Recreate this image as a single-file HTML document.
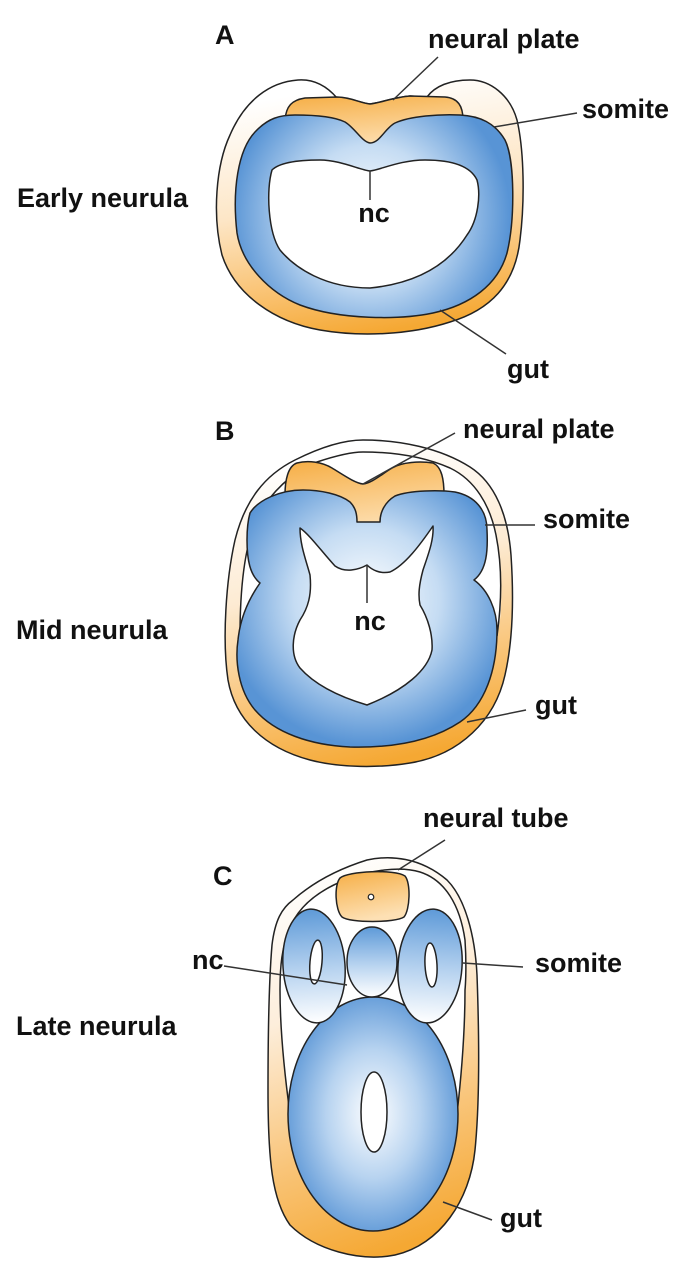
<!DOCTYPE html>
<html><head><meta charset="utf-8"><style>
html,body{margin:0;padding:0;background:#fff;}
svg{display:block;}
text{font-family:"Liberation Sans",Arial,sans-serif;font-weight:bold;font-size:27px;fill:#111;}
</style></head><body>
<svg width="682" height="1280" viewBox="0 0 682 1280" xmlns="http://www.w3.org/2000/svg">
<defs>
<linearGradient id="bodyA" x1="0.3" y1="0.05" x2="0.5" y2="1">
<stop offset="0" stop-color="#ffffff"/><stop offset="0.45" stop-color="#fde6c6"/><stop offset="0.8" stop-color="#f9bf6a"/><stop offset="1" stop-color="#f5a833"/></linearGradient>
<linearGradient id="bodyB" x1="0.3" y1="0.05" x2="0.5" y2="1">
<stop offset="0" stop-color="#ffffff"/><stop offset="0.4" stop-color="#fdebd3"/><stop offset="0.75" stop-color="#f9c374"/><stop offset="1" stop-color="#f5a833"/></linearGradient>
<linearGradient id="bodyC" x1="0.3" y1="0" x2="0.5" y2="1">
<stop offset="0" stop-color="#ffffff"/><stop offset="0.35" stop-color="#fdeedb"/><stop offset="0.7" stop-color="#f9c57a"/><stop offset="1" stop-color="#f5a833"/></linearGradient>
<linearGradient id="np" x1="0" y1="0" x2="0.3" y2="1">
<stop offset="0" stop-color="#f6ae45"/><stop offset="1" stop-color="#fde0b4"/></linearGradient>
<radialGradient id="blueA" gradientUnits="userSpaceOnUse" cx="370" cy="215" r="140">
<stop offset="0" stop-color="#ffffff"/><stop offset="0.5" stop-color="#c5dcf3"/><stop offset="1" stop-color="#5894d5"/></radialGradient>
<radialGradient id="blueB" gradientUnits="userSpaceOnUse" cx="367" cy="600" r="145">
<stop offset="0" stop-color="#ffffff"/><stop offset="0.5" stop-color="#c5dcf3"/><stop offset="1" stop-color="#5894d5"/></radialGradient>
<radialGradient id="blueGut" cx="0.5" cy="0.5" r="0.55">
<stop offset="0" stop-color="#ffffff"/><stop offset="0.5" stop-color="#b7d3f0"/><stop offset="1" stop-color="#5894d5"/></radialGradient>
<linearGradient id="blueV" x1="0" y1="0" x2="0" y2="1">
<stop offset="0" stop-color="#5e9ad8"/><stop offset="0.55" stop-color="#b9d4f0"/><stop offset="1" stop-color="#ffffff"/></linearGradient>
</defs>

<g stroke="#222" stroke-width="1.5" stroke-linejoin="round">
<!-- Panel A -->
<path fill="url(#bodyA)" d="M337,98 C325,84 312,79 298,80 C270,82 245,100 230,135 C216,165 212,215 222,255 C235,295 275,322 320,330 C360,337 410,335 450,322 C490,310 515,285 520,240 C525,200 524,150 517,120 C510,95 490,80 470,80 C450,80 435,86 427,97 L410,96 C395,97 380,103 370,104 C360,103 350,97 337,98 Z"/>
<path fill="url(#np)" d="M285,150 L285,120 C286,106 292,100 305,98 L337,97 C350,97 360,103 370,104 C380,103 395,97 410,96 L445,97 C458,98 463,106 463,120 L463,150 Z"/>
<path fill="url(#blueA)" d="M237,233 C232,190 238,150 255,132 C268,118 280,115 295,115 C315,115 335,117 345,122 C355,128 362,142 370,143 C380,143 385,128 395,123 C410,116 440,114 460,115 C480,116 495,123 505,140 C515,160 515,220 507,253 C498,285 470,305 433,313 C400,320 340,320 300,305 C270,293 242,265 237,233 Z"/>
<path fill="#fff" d="M272,170 C280,162 300,160 320,160 C340,160 360,170 370,171 C380,170 400,160 425,160 C450,160 470,165 477,180 C481,195 478,220 467,235 C450,262 420,283 370,288 C325,288 295,268 280,250 C268,232 266,190 272,170 Z"/>

<!-- Panel B -->
<path fill="url(#bodyB)" d="M363,440 C400,440 440,448 470,467 C495,483 508,515 511,555 C514,600 513,640 505,675 C495,720 460,755 410,763 C380,768 340,768 310,760 C265,748 235,720 228,680 C222,640 226,580 235,540 C245,500 265,475 295,460 C315,450 340,440 363,440 Z"/>
<path fill="#fff" stroke="none" d="M241,620 C240,575 247,532 263,507 C280,483 300,468 317,462 C335,456 350,452 363,452 C390,452 420,455 450,468 C475,480 490,505 496,535 C502,565 502,600 500,620 C499,630 495,640 490,648 L245,648 C241,640 240,630 241,620 Z"/>
<path fill="none" d="M240,636 C240,575 247,532 263,507 C280,483 300,468 317,462 C335,456 350,452 363,452 C390,452 420,455 450,468 C475,480 490,505 496,535 C502,565 502,600 497,636"/>
<path fill="url(#np)" d="M285,495 C285,480 288,466 297,463 C308,460 322,462 332,468 C345,476 355,483 363,484 C372,483 382,474 392,468 C402,462 420,461 433,463 C442,467 444,480 444,495 L444,535 L285,535 Z"/>
<path fill="url(#blueB)" d="M250,513 C258,500 280,490 303,490 C320,490 340,494 350,502 C356,508 357,515 357,522 L380,522 C380,512 385,502 395,496 C410,490 440,490 455,492 C475,496 487,510 487,530 C488,550 487,570 474,580 C488,590 497,610 497,630 C497,670 485,705 460,722 C430,742 390,748 350,747 C310,745 275,733 255,710 C238,690 235,660 238,640 C240,620 248,600 260,583 C250,575 247,560 247,540 C247,528 248,520 250,513 Z"/>
<path fill="#fff" d="M300,528 C310,535 322,552 335,566 C345,573 358,570 367,565 C372,570 380,574 390,572 C405,565 420,545 433,526 C434,540 428,555 423,570 C419,585 418,595 420,605 C428,618 433,635 432,650 C428,670 405,690 367,705 C340,697 315,685 300,668 C290,655 292,635 300,620 C308,608 312,595 310,575 C306,560 300,545 300,528 Z"/>

<!-- Panel C -->
<path fill="url(#bodyC)" d="M293,900 C310,885 335,870 367,860 C390,855 420,857 447,880 C465,898 475,935 477,975 C479,1030 480,1100 475,1150 C470,1200 440,1245 395,1255 C360,1262 315,1250 290,1225 C272,1200 268,1160 268,1090 C268,1030 269,980 272,945 C275,920 282,908 293,900 Z"/>
<path fill="#fff" stroke="none" d="M290,1114 C284,1070 280,1030 280,990 C280,965 282,948 289,930 C298,906 320,890 345,880 C370,870 400,866 420,872 C445,880 460,905 465,940 C467,970 465,990 465,990 C465,1030 462,1070 457,1114 Z"/>
<path fill="none" d="M290,1114 C284,1070 280,1030 280,990 C280,965 282,948 289,930 C298,906 320,890 345,880 C370,870 400,866 420,872 C445,880 460,905 465,940 C467,970 465,990 465,990 C465,1030 462,1070 457,1114"/>
<ellipse cx="373" cy="1114" rx="85" ry="117" fill="url(#blueGut)"/>
<ellipse cx="374" cy="1112" rx="13" ry="40" fill="#fff"/>
<ellipse cx="314" cy="966" rx="31" ry="57" fill="url(#blueV)" transform="rotate(-4 314 966)"/>
<ellipse cx="430" cy="966" rx="32" ry="57" fill="url(#blueV)" transform="rotate(4 430 966)"/>
<ellipse cx="372" cy="962" rx="25" ry="35" fill="url(#blueV)"/>
<ellipse cx="316" cy="962" rx="6" ry="22" fill="#fff" transform="rotate(5 316 962)"/>
<ellipse cx="431" cy="965" rx="6" ry="22" fill="#fff" transform="rotate(-3 431 965)"/>
<path fill="url(#np)" d="M340,878 C348,871 395,869 405,876 C411,883 410,910 404,917 C395,923 350,923 342,917 C335,910 334,885 340,878 Z"/>
<circle cx="371" cy="897" r="2.8" fill="#fff" stroke-width="1.2"/>
</g>

<!-- leader lines -->
<g stroke="#333" stroke-width="1.5" fill="none">
<line x1="438" y1="57" x2="393" y2="100"/>
<line x1="494" y1="127" x2="577" y2="113"/>
<line x1="440" y1="310" x2="506" y2="354"/>
<line x1="370" y1="171" x2="370" y2="200"/>
<line x1="455" y1="433" x2="363" y2="484"/>
<line x1="485" y1="525" x2="535" y2="525"/>
<line x1="467" y1="722" x2="526" y2="710"/>
<line x1="367" y1="565" x2="367" y2="603"/>
<line x1="445" y1="840" x2="398" y2="870"/>
<line x1="224" y1="966" x2="347" y2="985"/>
<line x1="463" y1="963" x2="523" y2="967"/>
<line x1="443" y1="1202" x2="492" y2="1220"/>
</g>

<!-- labels -->
<text x="215" y="44">A</text>
<text x="428" y="48">neural plate</text>
<text x="582" y="118">somite</text>
<text x="17" y="207">Early neurula</text>
<text x="374" y="222" text-anchor="middle">nc</text>
<text x="507" y="378">gut</text>

<text x="215" y="440">B</text>
<text x="463" y="438">neural plate</text>
<text x="543" y="528">somite</text>
<text x="16" y="639">Mid neurula</text>
<text x="370" y="630" text-anchor="middle">nc</text>
<text x="535" y="714">gut</text>

<text x="213" y="885">C</text>
<text x="423" y="827">neural tube</text>
<text x="192" y="969">nc</text>
<text x="535" y="972">somite</text>
<text x="16" y="1035">Late neurula</text>
<text x="500" y="1227">gut</text>
</svg>
</body></html>
